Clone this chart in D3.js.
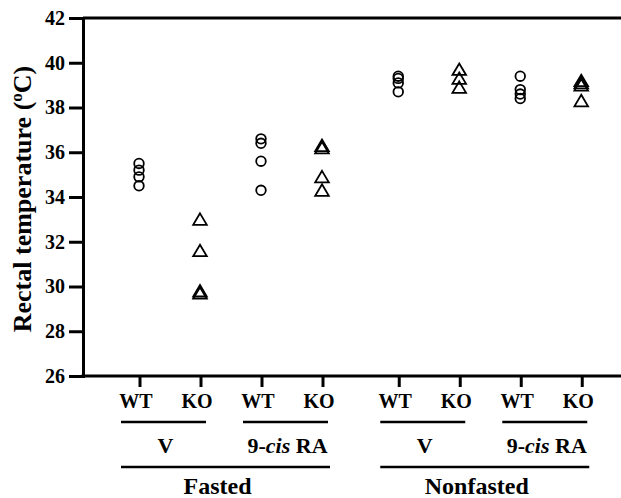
<!DOCTYPE html>
<html>
<head>
<meta charset="utf-8">
<script src="https://cdn.jsdelivr.net/npm/d3@7"></script>
<style>
  html, body { margin: 0; padding: 0; background: #fff; }
  svg { display: block; font-family: "Liberation Serif", "Times New Roman", serif; font-weight: bold; }
</style>
</head>
<body>
<div id="chart"></div>
<script>
// Rectal temperature by group
const slots = [0, 1, 2, 3, 4.25, 5.25, 6.25, 7.25];
const genotypes = ['WT', 'KO', 'WT', 'KO', 'WT', 'KO', 'WT', 'KO'];
const markers = ['circle', 'triangle', 'circle', 'triangle', 'circle', 'triangle', 'circle', 'triangle'];

const fastedVWT = [35.5, 35.2, 34.9, 34.5];
const fastedVKO = [33.0, 31.6, 29.8, 29.7];
const fastedRAWT = [36.6, 36.4, 35.6, 34.3];
const fastedRAKO = [36.3, 36.2, 34.9, 34.3];
const nonfastedVWT = [39.4, 39.3, 39.1, 38.7];
const nonfastedVKO = [39.7, 39.3, 38.9];
const nonfastedRAWT = [39.4, 38.8, 38.6, 38.4];
const nonfastedRAKO = [39.2, 39.1, 39.0, 38.3];
const seriesValues = [fastedVWT, fastedVKO, fastedRAWT, fastedRAKO,
                      nonfastedVWT, nonfastedVKO, nonfastedRAWT, nonfastedRAKO];

const treatments = [
    { label: 'V', from: 0, to: 1 },
    { label: 'RA', from: 2, to: 3 },
    { label: 'V', from: 4, to: 5 },
    { label: 'RA', from: 6, to: 7 }
];
const conditions = [
    { label: 'Fasted', from: 0, to: 3 },
    { label: 'Nonfasted', from: 4, to: 7 }
];
const yTicks = [26, 28, 30, 32, 34, 36, 38, 40, 42];

const W = 621, H = 498;
const svg = d3.select('#chart').append('svg')
    .attr('width', W)
    .attr('height', H);

const y = d3.scaleLinear().domain([26, 42]).range([376, 18]);
const x = d3.scaleLinear().domain([0, 1]).range([139, 200]);
const axisX = 83;

// Frame lines
svg.append('line')
    .attr('x1', axisX).attr('x2', W)
    .attr('y1', y(42)).attr('y2', y(42))
    .attr('stroke', '#000').attr('stroke-width', 3);
svg.append('line')
    .attr('x1', axisX - 1.5).attr('x2', W)
    .attr('y1', y(26)).attr('y2', y(26))
    .attr('stroke', '#000').attr('stroke-width', 3);

// Y axis
const yAxis = d3.axisLeft(y).tickValues(yTicks).tickSize(14).tickPadding(4);
const gy = svg.append('g')
    .attr('transform', `translate(${axisX},0)`)
    .call(yAxis);
gy.select('.domain').attr('stroke-width', 3);
gy.selectAll('.tick line').attr('stroke-width', 3);
gy.selectAll('.tick text')
    .attr('font-size', 20)
    .attr('font-family', '"Liberation Serif", serif')
    .attr('font-weight', 'bold')
    .attr('fill', '#000');

svg.append('text')
    .attr('transform', `translate(31,${(y(26) + y(42)) / 2 + 2}) rotate(-90)`)
    .attr('text-anchor', 'middle')
    .attr('font-size', 26)
    .html('Rectal temperature (<tspan baseline-shift="super" font-size="17">o</tspan>C)');

// X ticks
svg.append('g').selectAll('line')
    .data(slots)
    .join('line')
    .attr('x1', d => x(d) + 1).attr('x2', d => x(d) + 1)
    .attr('y1', y(26)).attr('y2', y(26) + 11)
    .attr('stroke', '#000').attr('stroke-width', 3);

// Genotype labels
svg.append('g').selectAll('text')
    .data(genotypes)
    .join('text')
    .attr('x', (d, i) => x(slots[i]) - 3)
    .attr('y', 408)
    .attr('text-anchor', 'middle')
    .attr('font-size', 20)
    .text(d => d);

// Treatment underlines and labels
const tg = svg.append('g');
tg.selectAll('line')
    .data(treatments)
    .join('line')
    .attr('x1', d => x(slots[d.from]) - 18)
    .attr('x2', d => x(slots[d.to]) + 6)
    .attr('y1', 422).attr('y2', 422)
    .attr('stroke', '#000').attr('stroke-width', 2.5);
tg.selectAll('text')
    .data(treatments)
    .join('text')
    .attr('x', d => (x(slots[d.from]) + x(slots[d.to])) / 2 - 4)
    .attr('y', 453)
    .attr('text-anchor', 'middle')
    .attr('font-size', 22)
    .each(function (d) {
        const t = d3.select(this);
        if (d.label === 'V') {
            t.text('V');
        } else {
            t.append('tspan').text('9-');
            t.append('tspan').attr('font-style', 'italic').text('cis');
            t.append('tspan').text(' RA');
        }
    });

// Condition underlines and labels
const cg = svg.append('g');
cg.selectAll('line')
    .data(conditions)
    .join('line')
    .attr('x1', d => x(slots[d.from]) - 18)
    .attr('x2', d => x(slots[d.to]) + 8)
    .attr('y1', 467).attr('y2', 467)
    .attr('stroke', '#000').attr('stroke-width', 2.5);
cg.selectAll('text')
    .data(conditions)
    .join('text')
    .attr('x', d => (x(slots[d.from]) + x(slots[d.to])) / 2 - 13)
    .attr('y', 494)
    .attr('text-anchor', 'middle')
    .attr('font-size', 24)
    .text(d => d.label);

// Data points
const points = [];
seriesValues.forEach((vals, i) => {
    vals.forEach(v => points.push({ slot: slots[i], value: v, marker: markers[i] }));
});

const tri = 'M0,-6 L6.8,5.5 L-6.8,5.5 Z';
const pg = svg.append('g');
pg.selectAll('circle')
    .data(points.filter(p => p.marker === 'circle'))
    .join('circle')
    .attr('cx', d => x(d.slot))
    .attr('cy', d => y(d.value))
    .attr('r', 4.8)
    .attr('fill', 'none')
    .attr('stroke', '#000')
    .attr('stroke-width', 1.8);
pg.selectAll('path')
    .data(points.filter(p => p.marker === 'triangle'))
    .join('path')
    .attr('d', tri)
    .attr('transform', d => `translate(${x(d.slot)},${y(d.value)})`)
    .attr('fill', 'none')
    .attr('stroke', '#000')
    .attr('stroke-width', 1.8)
    .attr('stroke-linejoin', 'miter');
</script>
</body>
</html>
